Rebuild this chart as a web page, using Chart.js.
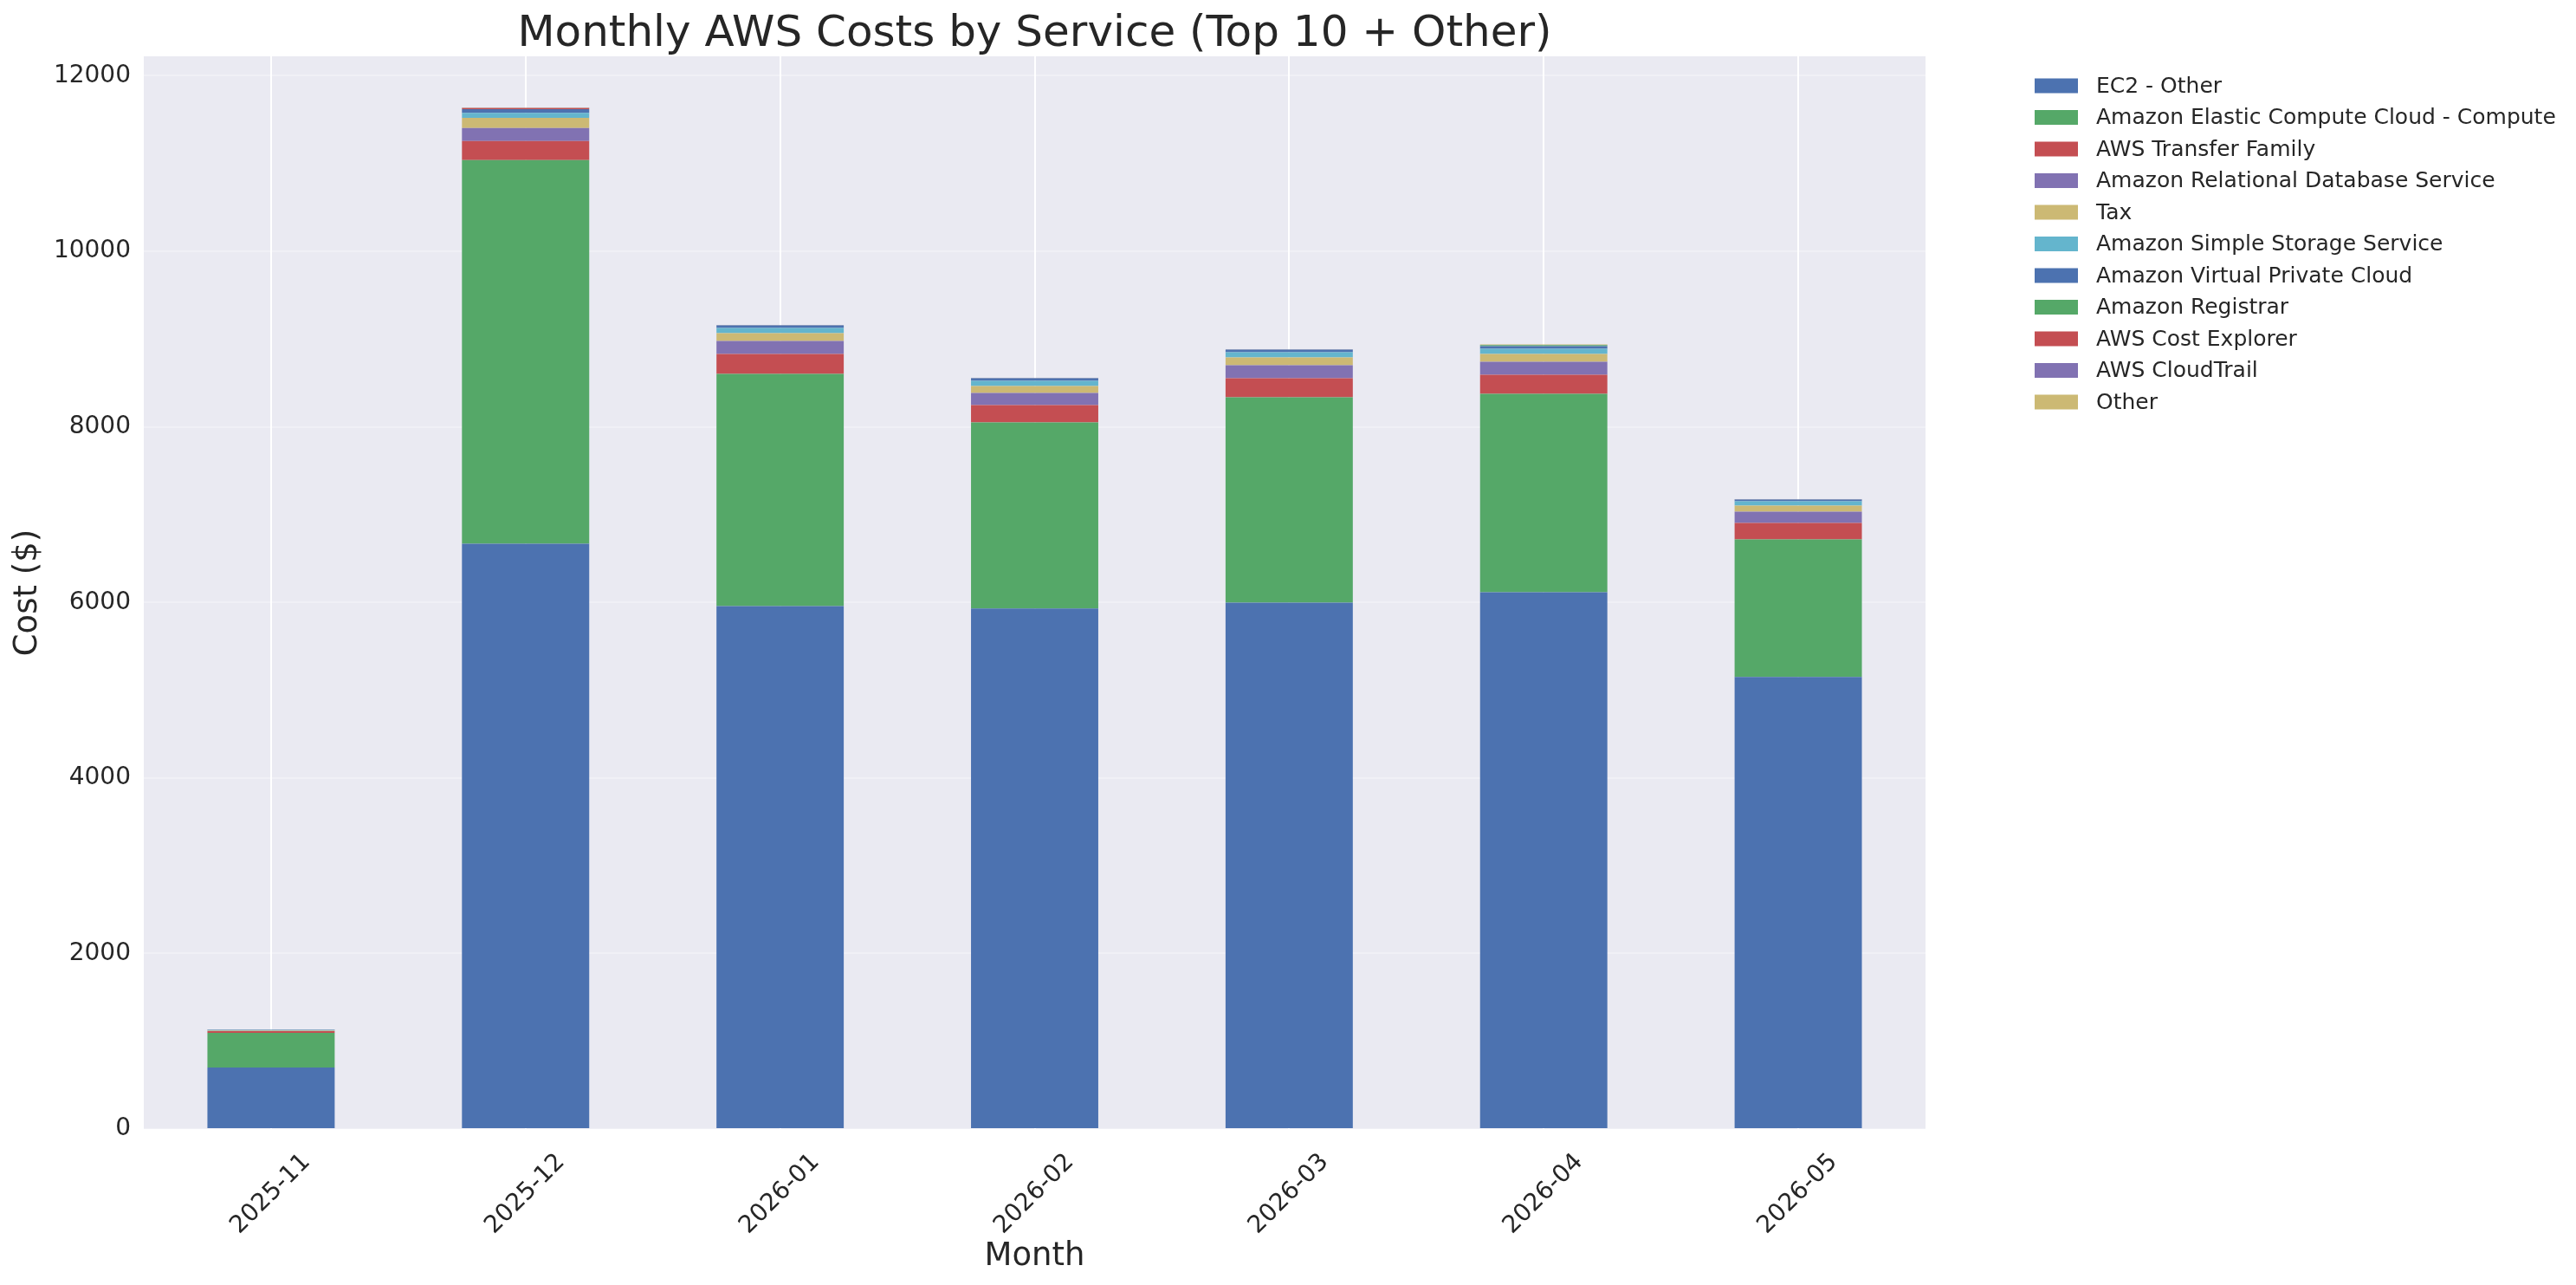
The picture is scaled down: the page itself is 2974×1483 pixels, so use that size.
<!DOCTYPE html>
<html>
<head>
<meta charset="utf-8">
<script src="https://cdn.jsdelivr.net/npm/chart.js@4.4.1/dist/chart.umd.min.js"></script>
<style>
  html, body { margin: 0; padding: 0; background: #fff; }
  #costChart { display: block; }
</style>
</head>
<body>
<canvas id="costChart" width="2974" height="1483"></canvas>
<script>
// values ($ per month)
const months = ['2025-11', '2025-12', '2026-01', '2026-02', '2026-03', '2026-04', '2026-05'];

const ec2Other     = [700, 6669, 5959, 5930, 5998, 6117, 5150];
const ec2Compute   = [395, 4371, 2644, 2121, 2339, 2259, 1569];
const transfer     = [20, 217, 227, 197, 217, 217, 187];
const rds          = [0, 148, 148, 138, 148, 148, 128];
const tax          = [5, 116, 89, 79, 89, 89, 69];
const s3           = [8, 56, 59, 59, 59, 59, 49];
const vpc          = [5, 42, 30, 30, 30, 30, 20];
const registrar    = [0, 0, 0, 0, 0, 13, 0];
const costExplorer = [0, 13, 0, 0, 0, 0, 0];
const cloudTrail   = [0, 3, 2, 2, 2, 2, 2];
const other        = [2, 5, 3, 3, 3, 5, 3];

const yTicks = [0, 2000, 4000, 6000, 8000, 10000, 12000];

const services = [
    {label: 'EC2 - Other', data: ec2Other, color: '#4C72B0'},
    {label: 'Amazon Elastic Compute Cloud - Compute', data: ec2Compute, color: '#55A868'},
    {label: 'AWS Transfer Family', data: transfer, color: '#C44E52'},
    {label: 'Amazon Relational Database Service', data: rds, color: '#8172B2'},
    {label: 'Tax', data: tax, color: '#CCB974'},
    {label: 'Amazon Simple Storage Service', data: s3, color: '#64B5CD'},
    {label: 'Amazon Virtual Private Cloud', data: vpc, color: '#4C72B0'},
    {label: 'Amazon Registrar', data: registrar, color: '#55A868'},
    {label: 'AWS Cost Explorer', data: costExplorer, color: '#C44E52'},
    {label: 'AWS CloudTrail', data: cloudTrail, color: '#8172B2'},
    {label: 'Other', data: other, color: '#CCB974'}
];

const FONT = "'DejaVu Sans', sans-serif";
const TEXT = '#262626';

// top of the y range: tallest stack + 5% headroom, like matplotlib autoscale
const totals = months.map((m, i) => services.reduce((s, d) => s + d.data[i], 0));
const yMax = Math.max(...totals) * 1.05;

const background = {
    id: 'background',
    beforeDraw(chart){
        const {ctx, chartArea: a} = chart;
        ctx.save();
        ctx.fillStyle = '#ffffff';
        ctx.fillRect(0, 0, chart.width, chart.height);
        ctx.fillStyle = '#EAEAF2';
        ctx.fillRect(a.left, a.top, a.right - a.left, a.bottom - a.top);
        ctx.restore();
    }
};

const titleAndLegend = {
    id: 'titleAndLegend',
    afterDraw(chart){
        const {ctx, chartArea: a} = chart;
        ctx.save();
        ctx.fillStyle = TEXT;
        ctx.font = '50px ' + FONT;
        ctx.textAlign = 'center';
        ctx.textBaseline = 'alphabetic';
        ctx.fillText('Monthly AWS Costs by Service (Top 10 + Other)', (a.left + a.right) / 2, 53);

        // legend, upper left outside the axes
        ctx.font = '25px ' + FONT;
        ctx.textAlign = 'left';
        ctx.textBaseline = 'middle';
        chart.data.datasets.forEach((ds, i) => {
            const y = 99 + i * 36.5;
            ctx.fillStyle = ds.backgroundColor;
            ctx.fillRect(2349, y - 8.5, 50, 17);
            ctx.fillStyle = TEXT;
            ctx.fillText(ds.label, 2420, y + 1);
        });
        ctx.restore();
    }
};

const ctx = document.getElementById('costChart').getContext('2d');

const chart = new Chart(ctx, {
    type: 'bar',
    data: {
        labels: months,
        datasets: services.map(s => ({
            label: s.label,
            data: s.data,
            backgroundColor: s.color,
            borderWidth: 0,
            stack: 'cost',
            barPercentage: 0.5,
            categoryPercentage: 1.0
        }))
    },
    options: {
        responsive: false,
        devicePixelRatio: 1,
        animation: false,
        layout: {padding: {left: 0, top: 65, right: 751, bottom: 0}},
        plugins: {
            legend: {display: false},
            title: {display: false},
            tooltip: {enabled: false}
        },
        scales: {
            x: {
                stacked: true,
                offset: true,
                afterFit: s => { s.height = 180; },
                grid: {offset: false, color: '#ffffff', lineWidth: 2, drawTicks: false},
                border: {display: false},
                ticks: {
                    color: TEXT,
                    font: {family: FONT, size: 28},
                    minRotation: 45,
                    maxRotation: 45,
                    labelOffset: 41,
                    padding: 22
                },
                title: {
                    display: true,
                    text: 'Month',
                    color: TEXT,
                    font: {family: FONT, size: 37},
                    padding: {top: 0, bottom: 10}
                }
            },
            y: {
                stacked: true,
                min: 0,
                max: yMax,
                afterFit: s => { s.width = 166; },
                afterBuildTicks: s => { s.ticks = yTicks.map(v => ({value: v})); },
                grid: {color: 'rgba(255,255,255,0.3)', lineWidth: 2, drawTicks: false},
                border: {display: false},
                ticks: {
                    color: TEXT,
                    font: {family: FONT, size: 28},
                    padding: 15,
                    callback: v => String(v)
                },
                title: {
                    display: true,
                    text: 'Cost ($)',
                    color: TEXT,
                    font: {family: FONT, size: 37},
                    padding: {top: 10, bottom: 0}
                }
            }
        }
    },
    plugins: [background, titleAndLegend]
});
</script>
</body>
</html>
